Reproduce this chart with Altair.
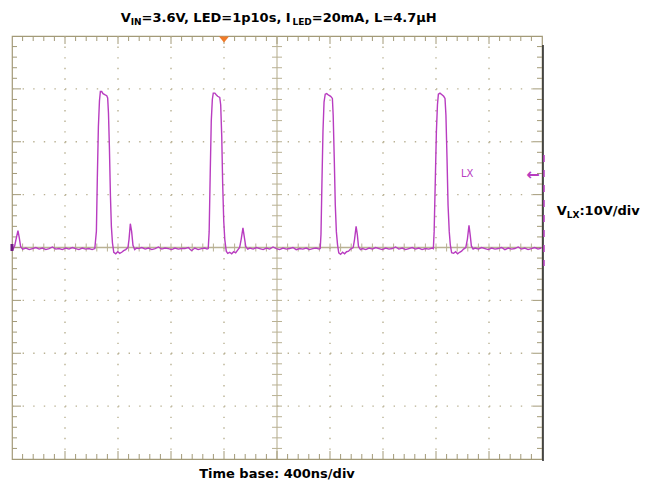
import altair as alt
import pandas as pd

# ---------------- data ----------------
# time in ns from the left edge of the graticule (400 ns/div), LX voltage in V (10 V/div)
init_t = [0, 8, 20, 30, 45, 55, 65]
init_v = [-0.6, -0.3, 0.3, 1.5, 3.2, 1.8, 0.2]

base0_t = [80, 105, 130, 155, 180, 205, 230, 255, 280, 305, 330, 355, 380, 405, 430, 455, 480, 505, 530, 555, 580, 605]
base0_v = [-0.3, -0.1, -0.4, -0.2, 0.0, -0.3, -0.1, -0.4, -0.2, 0.1, -0.3, -0.2, -0.4, -0.1, -0.3, 0.0, -0.2, -0.4, -0.1, -0.3, -0.2, -0.4]

pulse1_t = [625, 637, 644, 652, 660, 667, 677, 687, 700, 715, 722, 728, 735, 743, 750, 758, 768, 783, 798, 813, 828, 843, 858, 875, 883, 893, 903, 913, 926, 941]
pulse1_v = [-0.2, 3.1, 13.2, 22.9, 27.7, 29.5, 29.5, 29.1, 28.9, 28.7, 28.3, 25.5, 19.1, 9.7, 4.0, 0.9, -0.9, -1.2, -0.8, -1.1, -0.9, -0.6, -0.4, 0.0, 1.5, 4.5, 3.0, 0.4, -0.4, -0.1]

base1_t = [955, 980, 1005, 1030, 1055, 1080, 1105, 1130, 1155, 1180, 1205, 1230, 1255, 1280, 1305, 1330, 1355, 1380, 1405, 1430, 1455, 1472]
base1_v = [-0.2, 0.0, -0.3, -0.1, -0.4, -0.2, 0.1, -0.3, -0.1, -0.2, -0.4, -0.1, -0.3, -0.2, -0.2, 0.0, -0.6, -0.1, -0.4, -0.2, -0.1, -0.3]

pulse2_t = [1481, 1488, 1496, 1504, 1512, 1519, 1531, 1541, 1552, 1568, 1575, 1583, 1590, 1598, 1606, 1617, 1628, 1643, 1658, 1673, 1688, 1703, 1718, 1730, 1743, 1752, 1764, 1779]
pulse2_v = [-0.2, 3.0, 14.0, 24.0, 28.0, 29.2, 29.2, 28.9, 28.6, 28.4, 27.0, 21.0, 12.0, 5.0, 1.5, -0.7, -1.1, -0.9, -1.2, -0.8, -1.0, -0.5, 0.0, 1.6, 3.7, 2.2, 0.2, -0.3]

base2_t = [1795, 1820, 1845, 1870, 1895, 1920, 1945, 1970, 1995, 2020, 2045, 2070, 2095, 2120, 2145, 2170, 2195, 2220, 2245, 2270, 2295, 2318]
base2_v = [-0.1, -0.3, 0.0, -0.2, -0.4, -0.1, -0.3, 0.1, -0.2, -0.4, -0.1, -0.3, -0.2, 0.0, -0.4, -0.2, -0.3, -0.1, -0.4, -0.2, -0.1, -0.3]

pulse3_t = [2326, 2332, 2339, 2347, 2355, 2364, 2375, 2390, 2405, 2418, 2424, 2432, 2440, 2448, 2457, 2466, 2480, 2495, 2510, 2525, 2540, 2555, 2575, 2585, 2597, 2606, 2615, 2630]
pulse3_v = [-0.2, 2.5, 12.0, 22.0, 27.5, 29.0, 29.1, 28.8, 28.6, 28.2, 25.0, 17.0, 8.0, 3.0, 0.5, -1.0, -1.3, -0.9, -1.2, -0.8, -0.7, -0.3, 0.0, 1.5, 4.0, 2.5, 0.2, -0.4]

base3_t = [2645, 2670, 2695, 2720, 2745, 2770, 2795, 2820, 2845, 2870, 2895, 2920, 2945, 2970, 2995, 3020, 3045, 3070, 3095, 3120, 3145, 3172]
base3_v = [-0.2, -0.4, -0.1, -0.3, 0.0, -0.2, -0.4, -0.1, -0.3, -0.2, 0.1, -0.3, -0.1, -0.4, -0.2, 0.0, -0.3, -0.1, -0.4, -0.2, -0.3, -0.1]

pulse4_t = [3180, 3186, 3195, 3203, 3211, 3218, 3230, 3245, 3258, 3268, 3275, 3283, 3291, 3300, 3308, 3318, 3333, 3348, 3363, 3378, 3393, 3408, 3425, 3437, 3449, 3458, 3467, 3480]
pulse4_v = [-0.2, 3.0, 13.0, 22.0, 27.0, 29.0, 29.2, 28.9, 28.6, 28.2, 25.0, 17.0, 8.0, 3.0, 0.5, -1.0, -1.1, -0.8, -1.2, -0.9, -0.7, -0.3, 0.0, 1.6, 4.2, 2.4, 0.3, -0.3]

base4_t = [3495, 3520, 3545, 3570, 3595, 3620, 3645, 3670, 3695, 3720, 3745, 3770, 3795, 3820, 3845, 3870, 3895, 3920, 3945, 3970, 3995]
base4_v = [-0.1, -0.3, 0.0, -0.2, -0.4, -0.1, -0.3, -0.2, 0.0, -0.4, -0.1, -0.3, -0.2, 0.1, -0.3, -0.1, -0.4, -0.2, 0.0, -0.3, -0.1]

trigger_t = [1600]          # trigger position marker (ns)
ground_v = [0]              # channel ground level (V)

# graticule (10 x 8 divisions, 5 minor per division)
grid_x = [400, 800, 1200, 1600, 2400, 2800, 3200, 3600]
grid_y = [-30, -20, -10, 10, 20, 30]
center_x = [2000]
center_y = [0]
major_x = [0, 400, 800, 1200, 1600, 2000, 2400, 2800, 3200, 3600, 4000]
major_y = [-40, -30, -20, -10, 0, 10, 20, 30, 40]
minor_x = [k * 80 for k in range(1, 50) if (k * 80) % 400 != 0]
minor_y = [k * 2 for k in range(-19, 20) if (k * 2) % 10 != 0]
all_minor_x = [k * 80 for k in range(1, 50)]
all_minor_y = [k * 2 for k in range(-19, 20)]

# ---------------- chart ----------------
W, H = 530, 423
GRID = "#b9b193"
FRAME = "#a39a78"
TRACE = "#b83cc0"
FONT = "DejaVu Sans"

X = alt.Scale(domain=[0, 4000], nice=False, zero=False)
Y = alt.Scale(domain=[-40, 40], nice=False, zero=False)

trace_t = init_t + base0_t + pulse1_t + base1_t + pulse2_t + base2_t + pulse3_t + base3_t + pulse4_t + base4_t
trace_v = init_v + base0_v + pulse1_v + base1_v + pulse2_v + base2_v + pulse3_v + base3_v + pulse4_v + base4_v
trace = pd.DataFrame({"t": trace_t, "v": trace_v})


def xq(name="x"):
    return alt.X(f"{name}:Q", scale=X, axis=None)


def yq(name="y"):
    return alt.Y(f"{name}:Q", scale=Y, axis=None)


layers = []

# dotted grid
layers.append(alt.Chart(pd.DataFrame({"x": grid_x})).mark_rule(
    color=GRID, strokeWidth=1.4, strokeDash=[1.4, 9.175]).encode(
    x=xq(), y=alt.value(0), y2=alt.value(H)))
layers.append(alt.Chart(pd.DataFrame({"y": grid_y})).mark_rule(
    color=GRID, strokeWidth=1.4, strokeDash=[1.4, 9.2]).encode(
    y=yq(), x=alt.value(0), x2=alt.value(W)))

# solid center cross-hair with ticks
layers.append(alt.Chart(pd.DataFrame({"x": center_x})).mark_rule(
    color=GRID, strokeWidth=1.1).encode(x=xq(), y=alt.value(0), y2=alt.value(H)))
layers.append(alt.Chart(pd.DataFrame({"y": center_y})).mark_rule(
    color=GRID, strokeWidth=1.3).encode(y=yq(), x=alt.value(0), x2=alt.value(W)))
layers.append(alt.Chart(pd.DataFrame({"x": all_minor_x, "y": [0] * len(all_minor_x)})).mark_tick(
    orient="vertical", size=8, thickness=1, color=GRID, opacity=1).encode(x=xq(), y=yq()))
layers.append(alt.Chart(pd.DataFrame({"y": all_minor_y, "x": [2000] * len(all_minor_y)})).mark_tick(
    orient="horizontal", size=10, thickness=1, color=GRID, opacity=1).encode(x=xq(), y=yq()))

# border ticks
for xs, ln in ((minor_x, 5), (major_x[1:-1], 8)):
    d = pd.DataFrame({"x": xs})
    layers.append(alt.Chart(d).mark_rule(color=FRAME, strokeWidth=1).encode(
        x=xq(), y=alt.value(0), y2=alt.value(ln)))
    layers.append(alt.Chart(d).mark_rule(color=FRAME, strokeWidth=1).encode(
        x=xq(), y=alt.value(H), y2=alt.value(H - ln)))
for ys, ln in ((minor_y, 5), (major_y[1:-1], 9)):
    d = pd.DataFrame({"y": ys})
    layers.append(alt.Chart(d).mark_rule(color=FRAME, strokeWidth=1).encode(
        y=yq(), x=alt.value(0), x2=alt.value(ln)))
    layers.append(alt.Chart(d).mark_rule(color=FRAME, strokeWidth=1).encode(
        y=yq(), x=alt.value(W), x2=alt.value(W - ln)))

# dark right edge
layers.append(alt.Chart(pd.DataFrame({"a": [0]})).mark_rule(color="#2e2e2e", strokeWidth=1.6).encode(
    x=alt.value(W + 1), y=alt.value(9), y2=alt.value(H + 2)))

# trace
layers.append(alt.Chart(trace).mark_line(color=TRACE, strokeWidth=1.4, clip=True).encode(
    x=xq("t"), y=yq("v")))

# ground marker on left edge
layers.append(alt.Chart(pd.DataFrame({"y": ground_v})).mark_tick(
    orient="vertical", size=7, thickness=3, color="#6e1c80", opacity=1).encode(
    x=alt.value(0), y=yq()))

# trigger marker
layers.append(alt.Chart(pd.DataFrame({"x": trigger_t})).mark_point(
    shape="M-1,-0.6L1,-0.6L0,0.6Z", size=100, filled=True, color="#f07a28", opacity=1,
    strokeWidth=0).encode(x=xq(), y=alt.value(3.5)))

# magenta dashed channel marker on right edge
layers.append(alt.Chart(pd.DataFrame({"a": [0]})).mark_rule(
    color=TRACE, strokeWidth=1.5, strokeDash=[7, 8]).encode(
    x=alt.value(W + 2), y=alt.value(119), y2=alt.value(230)))


def label(txt, px, py, size, bold=True, color="black", align="left", baseline="alphabetic"):
    return alt.Chart(pd.DataFrame({"s": [txt]})).mark_text(
        font=FONT, fontSize=size, fontWeight="bold" if bold else "normal",
        color=color, align=align, baseline=baseline).encode(
        x=alt.value(px), y=alt.value(py), text="s:N")


# title (with subscripts)
layers += [
    label("V", 108.7, -14, 13),
    label("IN", 118.7, -11, 9),
    label("=3.6V, LED=1p10s, I", 129.6, -14, 13),
    label("LED", 280.4, -11, 9),
    label("=20mA, L=4.7µH", 299.8, -14, 13),
]
# right label
layers += [
    label("V", 544.7, 179, 13),
    label("LX", 554.7, 182, 9),
    label(":10V/div", 567.4, 179, 13),
]
# bottom label
layers.append(label("Time base: 400ns/div", W / 2, 442, 13, align="center"))
# trace label and arrow
layers.append(label("LX", 449, 141, 10, bold=False, color=TRACE))
layers.append(label("←", 521, 139, 16, bold=True, color=TRACE, align="center", baseline="middle"))

chart = alt.layer(*layers).properties(
    width=W, height=H,
    padding={"left": 4, "top": 28, "right": 104, "bottom": 22},
    autosize=alt.AutoSizeParams(type="none"),
    background="white",
).configure_view(stroke=FRAME, strokeWidth=1.2)

chart.save("out.html", embed_options={"renderer": "svg", "actions": False})
